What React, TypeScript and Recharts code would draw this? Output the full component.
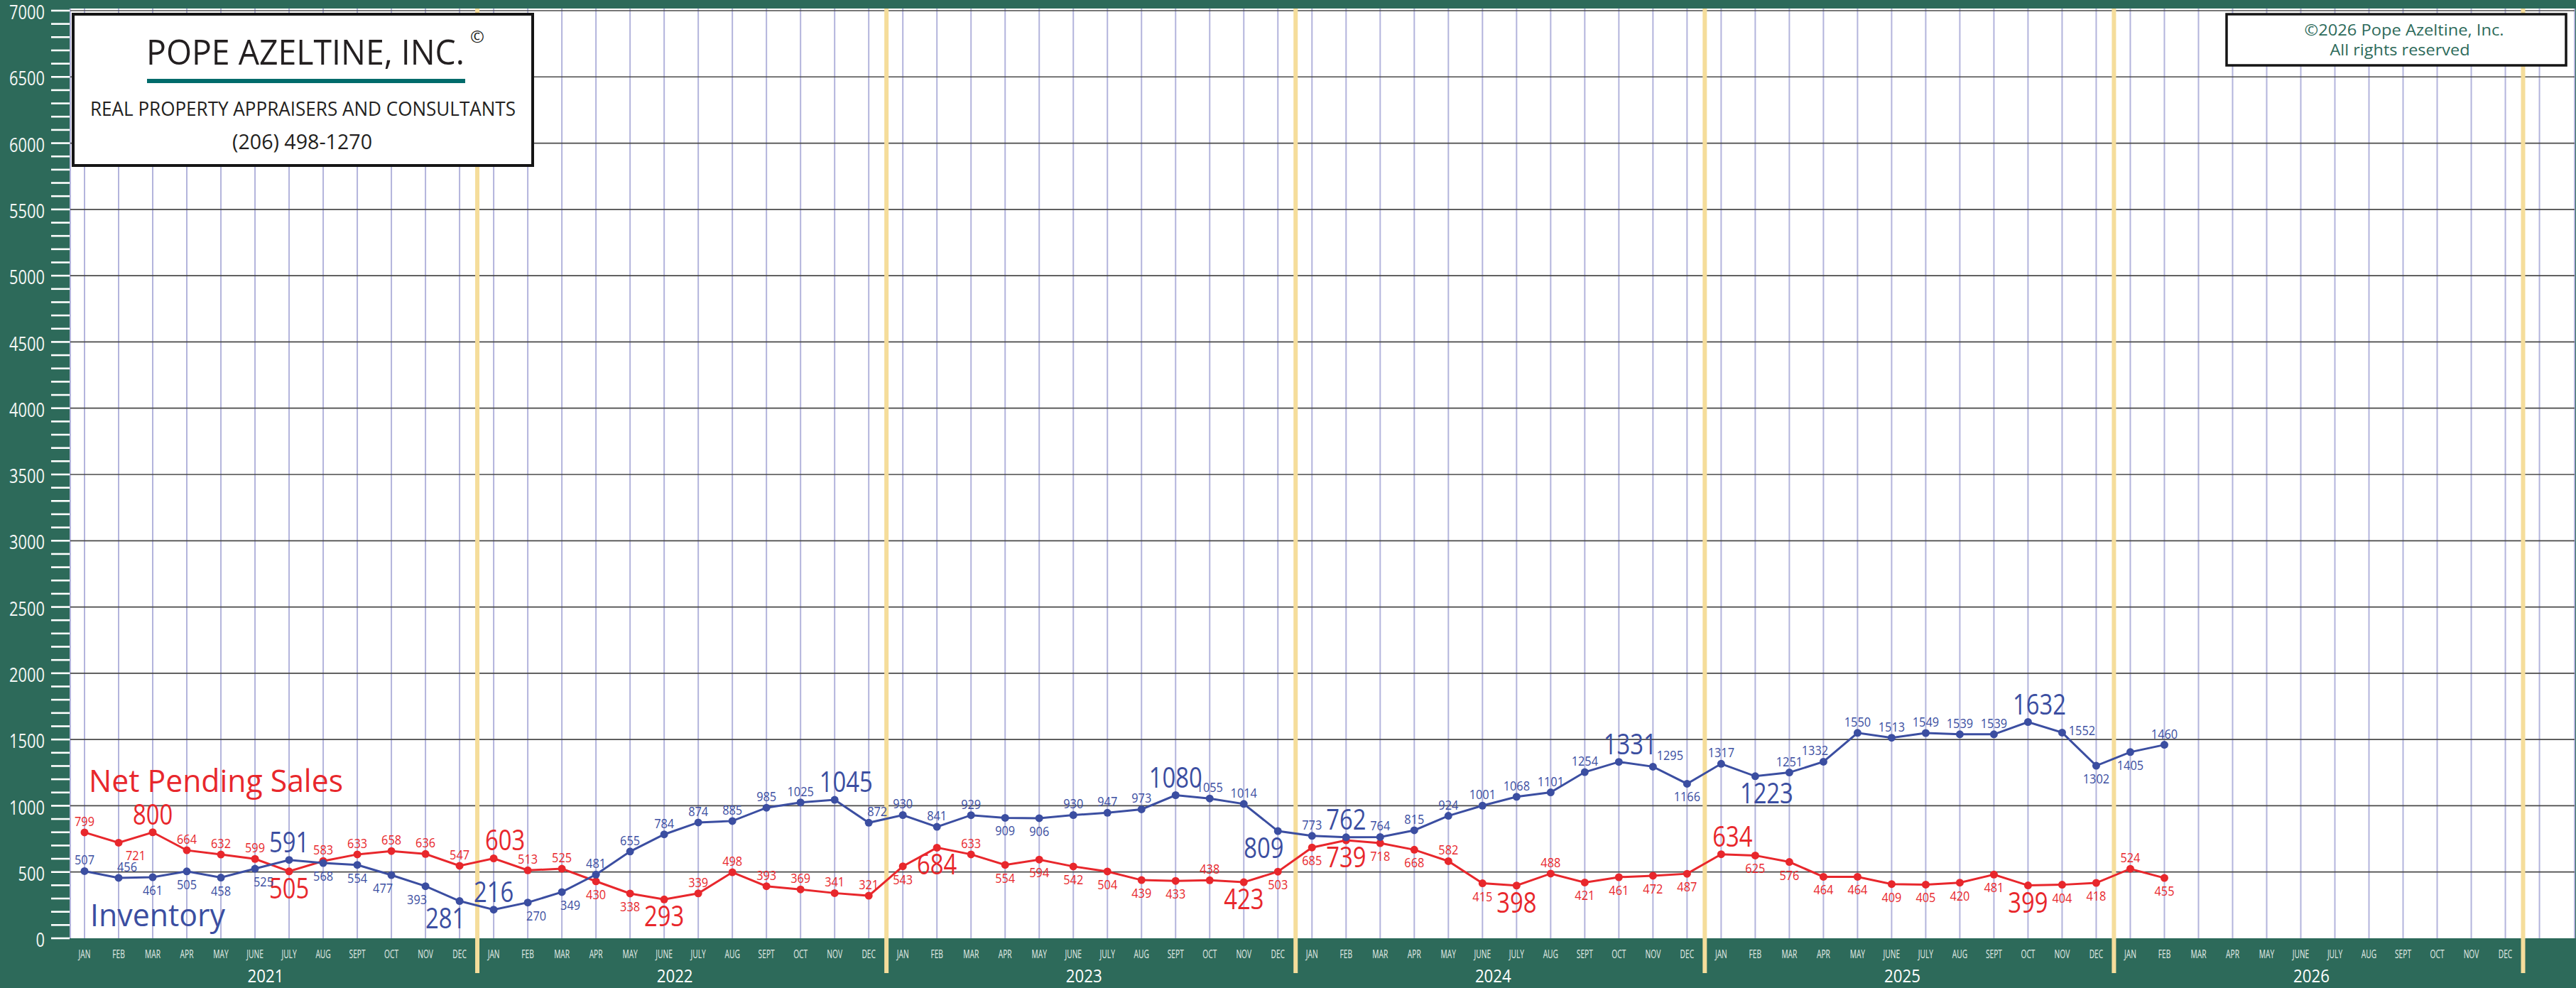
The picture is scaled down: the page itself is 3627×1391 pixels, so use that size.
import React from 'react'
import { LineChart, Line, XAxis, YAxis, CartesianGrid, ReferenceLine, LabelList } from 'recharts'

const W = 3627
const H = 1391
const FONT = "'Open Sans', 'Noto Sans', sans-serif"

const GREEN = '#2d6a5a'
const RED = '#e8272c'
const BLUE = '#3b4ea1'

const MONTHS = ['JAN', 'FEB', 'MAR', 'APR', 'MAY', 'JUNE', 'JULY', 'AUG', 'SEPT', 'OCT', 'NOV', 'DEC']
const YEARS = ['2021', '2022', '2023', '2024', '2025', '2026']

// Jan 2021 .. Feb 2026
const NET_PENDING = [
  799, 721, 800, 664, 632, 599, 505, 583, 633, 658, 636, 547,
  603, 513, 525, 430, 338, 293, 339, 498, 393, 369, 341, 321,
  543, 684, 633, 554, 594, 542, 504, 439, 433, 438, 423, 503,
  685, 739, 718, 668, 582, 415, 398, 488, 421, 461, 472, 487,
  634, 625, 576, 464, 464, 409, 405, 420, 481, 399, 404, 418,
  524, 455,
]

const INVENTORY = [
  507, 456, 461, 505, 458, 525, 591, 568, 554, 477, 393, 281,
  216, 270, 349, 481, 655, 784, 874, 885, 985, 1025, 1045, 872,
  930, 841, 929, 909, 906, 930, 947, 973, 1080, 1055, 1014, 809,
  773, 762, 764, 815, 924, 1001, 1068, 1101, 1254, 1331, 1295, 1166,
  1317, 1223, 1251, 1332, 1550, 1513, 1549, 1539, 1539, 1632, 1552, 1302,
  1405, 1460,
]

// label placement: a = above, b = below, s = beside; second letter nudges r / R (more) / l
const NET_PENDING_POS = [
  'a', 'bR', 'a', 'a', 'a', 'a', 'b', 'a', 'a', 'a', 'a', 'a',
  'ar', 'a', 'a', 'b', 'b', 'b', 'a', 'a', 'a', 'a', 'a', 'a',
  'b', 'b', 'a', 'b', 'b', 'b', 'b', 'b', 'b', 'a', 'b', 'b',
  'b', 'b', 'b', 'b', 'a', 'b', 'b', 'a', 'b', 'b', 'b', 'b',
  'ar', 'b', 'b', 'b', 'b', 'b', 'b', 'b', 'b', 'b', 'b', 'b',
  'a', 'b',
]
const INVENTORY_POS = [
  'a', 'ar', 'b', 'b', 'b', 'br', 'a', 'b', 'b', 'bl', 'bl', 'bl',
  'a', 'br', 'br', 'a', 'a', 'a', 'a', 'a', 'a', 'a', 'ar', 'ar',
  'a', 'a', 'a', 'b', 'b', 'a', 'a', 'a', 'a', 'a', 'a', 'bl',
  'a', 'a', 'a', 'a', 'a', 'a', 'a', 'a', 'a', 'ar', 'aR', 'b',
  'a', 'br', 'a', 'al', 'a', 'a', 'a', 'a', 'a', 'ar', 'sr', 'b',
  'b', 'a',
]

const Y_TICKS = Array.from({ length: 71 }, (_, i) => i * 100)
const Y_LINES = Array.from({ length: 14 }, (_, i) => (i + 1) * 500)
const X_TICKS = Array.from({ length: MONTHS.length * YEARS.length + 1 }, (_, i) => i)

const rows = NET_PENDING.map((v, i) => ({ i, nps: v, inv: INVENTORY[i] }))

// yearly high / low of every complete year gets the large label
function bigFlags(values: number[]): boolean[] {
  const flags = values.map(() => false)
  for (let s = 0; s + 12 <= values.length; s += 12) {
    const yr = values.slice(s, s + 12)
    flags[s + yr.indexOf(Math.max(...yr))] = true
    flags[s + yr.indexOf(Math.min(...yr))] = true
  }
  return flags
}

function makeLabel(values: number[], pos: string[], color: string) {
  const big = bigFlags(values)
  return (props: any) => {
    const idx = props.index
    const x = props.x ?? props.viewBox?.x
    const y = props.y ?? props.viewBox?.y
    if (x == null || y == null || idx == null) return null
    const p = pos[idx] || 'a'
    const isBig = big[idx]
    let dx = 0
    let dy = isBig ? -11 : -9
    if (p[0] === 'b') dy = isBig ? 38 : 25
    if (p[1] === 'r') dx = isBig ? 16 : 12
    if (p[1] === 'R') dx = 24
    if (p[1] === 'l') dx = isBig ? -20 : -12
    if (p[0] === 's') {
      dx = 28
      dy = 4
    }
    return (
      <text
        transform={`translate(${x + dx},${y + dy}) scale(${isBig ? 0.82 : 0.86},1)`}
        textAnchor="middle"
        fontSize={isBig ? 40 : 19}
        fontFamily={FONT}
        fill={color}
      >
        {values[idx]}
      </text>
    )
  }
}

const YTick = (props: any) => {
  const { x, y, payload } = props
  const major = payload.value % 500 === 0
  return (
    <g>
      <line x1={x - 27} x2={x - 1} y1={y} y2={y} stroke="#fff" strokeWidth={2.6} />
      {major && (
        <text
          transform={`translate(${x - 36},${y + 2}) scale(0.78,1)`}
          textAnchor="end"
          dy="0.36em"
          fontSize={28}
          fontFamily={FONT}
          fill="#f4f7f5"
        >
          {payload.value}
        </text>
      )}
    </g>
  )
}

const XTick = (props: any) => {
  const { x, y, payload } = props
  const i = payload.value
  if (i >= MONTHS.length * YEARS.length) return null
  return (
    <g fontFamily={FONT}>
      <text transform={`translate(${x},${y + 28}) scale(0.62,1)`} textAnchor="middle" fontSize={16.5} fill="#e4ece8">
        {MONTHS[i % 12]}
      </text>
      {i % 12 === 5 && (
        <text transform={`translate(${x + 15},${y + 62}) scale(0.89,1)`} textAnchor="middle" fontSize={25} fill="#fff">
          {YEARS[Math.floor(i / 12)]}
        </text>
      )}
    </g>
  )
}

const yearLine = (p: any) => {
  const top = Math.min(p.y1, p.y2)
  const bottom = Math.max(p.y1, p.y2) + 49
  return <line x1={p.x1} x2={p.x2} y1={top} y2={bottom} stroke="#f5dd9b" strokeWidth={6} />
}

export default function App() {
  return (
    <div style={{ position: 'absolute', left: 0, top: 0, width: W, height: H, background: GREEN, overflow: 'hidden' }}>
      <LineChart width={W} height={H} data={rows} margin={{ top: 12, right: 2, bottom: 0, left: 0 }}>
        <CartesianGrid fill="#fff" fillOpacity={1} horizontal={false} stroke="#b3b4dc" strokeWidth={2} />
        <XAxis
          dataKey="i"
          type="number"
          domain={[-0.4166, 73.03]}
          ticks={X_TICKS}
          interval={0}
          height={70}
          tickSize={0}
          tickMargin={0}
          axisLine={false}
          tickLine={false}
          tick={<XTick />}
          allowDataOverflow
        />
        <YAxis
          type="number"
          domain={[0, 7016]}
          ticks={Y_TICKS}
          interval={0}
          width={99}
          tickSize={0}
          tickMargin={0}
          axisLine={false}
          tickLine={false}
          tick={<YTick />}
          allowDataOverflow
        />
        {Y_LINES.map((v) => (
          <ReferenceLine key={v} y={v} stroke="#4a4a4a" strokeWidth={1.7} />
        ))}
        {YEARS.map((yr, k) => (
          <ReferenceLine key={yr} x={k * 12 + 11.52} stroke="#f5dd9b" strokeWidth={6} shape={yearLine} />
        ))}
        <Line
          dataKey="nps"
          type="linear"
          stroke={RED}
          strokeWidth={3}
          dot={{ r: 5.5, fill: RED, stroke: 'none' }}
          activeDot={false}
          isAnimationActive={false}
        >
          <LabelList dataKey="nps" content={makeLabel(NET_PENDING, NET_PENDING_POS, RED)} />
        </Line>
        <Line
          dataKey="inv"
          type="linear"
          stroke={BLUE}
          strokeWidth={3}
          dot={{ r: 5.5, fill: BLUE, stroke: 'none' }}
          activeDot={false}
          isAnimationActive={false}
        >
          <LabelList dataKey="inv" content={makeLabel(INVENTORY, INVENTORY_POS, BLUE)} />
        </Line>
      </LineChart>

      <svg
        width={W}
        height={H}
        style={{ position: 'absolute', left: 0, top: 0, pointerEvents: 'none' }}
        fontFamily={FONT}
      >
        <rect x={103} y={20} width={647} height={213} fill="#fff" stroke="#151515" strokeWidth={4} />
        <text x={206} y={91} fontSize={50} fill="#231f20" textLength={448} lengthAdjust="spacingAndGlyphs">
          POPE AZELTINE, INC.
        </text>
        <text x={672} y={60} fontSize={24} fill="#231f20" textAnchor="middle">
          ©
        </text>
        <rect x={207} y={111} width={448} height={6} fill="#006b6b" />
        <text x={127} y={163} fontSize={28} fill="#231f20" textLength={599} lengthAdjust="spacingAndGlyphs">
          REAL PROPERTY APPRAISERS AND CONSULTANTS
        </text>
        <text x={327} y={210} fontSize={29} fill="#231f20" textLength={197} lengthAdjust="spacingAndGlyphs">
          (206) 498-1270
        </text>

        <rect x={3135} y={20} width={478} height={72} fill="#fff" stroke="#151515" strokeWidth={3.5} />
        <text x={3385} y={50} textAnchor="middle" fontSize={22.5} fill={GREEN} textLength={281} lengthAdjust="spacingAndGlyphs">
          ©2026 Pope Azeltine, Inc.
        </text>
        <text x={3379} y={78} textAnchor="middle" fontSize={22.5} fill={GREEN} textLength={197} lengthAdjust="spacingAndGlyphs">
          All rights reserved
        </text>

        <text x={125} y={1115} fontSize={43.5} fill={RED} textLength={358} lengthAdjust="spacingAndGlyphs">
          Net Pending Sales
        </text>
        <text x={127} y={1304} fontSize={43} fill={BLUE} textLength={190} lengthAdjust="spacingAndGlyphs">
          Inventory
        </text>
      </svg>
    </div>
  )
}
